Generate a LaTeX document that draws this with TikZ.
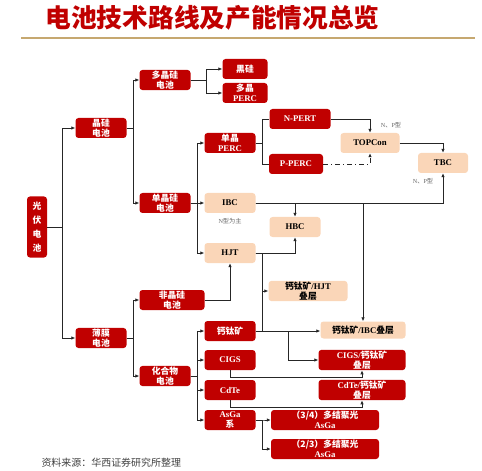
\documentclass[tikz,border=0pt]{standalone}
\usepackage{fontspec}
\setmainfont{Liberation Serif}
\newfontfamily\cjk{Noto Sans CJK SC}
\newcommand\zh[1]{{\cjk #1}}
\usetikzlibrary{arrows.meta}
\definecolor{boxred}{RGB}{192,0,0}
\definecolor{boxpeach}{RGB}{250,214,184}
\definecolor{rulegold}{RGB}{198,168,112}

\begin{document}
\begin{tikzpicture}[x=1bp,y=-1bp,
    redbox/.style={fill=boxred,text=white,rounded corners=3bp,minimum width=51bp,minimum height=20bp,
      inner sep=1bp,align=center,font=\fontsize{8.8}{9.8}\selectfont\bfseries},
    peachbox/.style={redbox,fill=boxpeach,text=black},
    ln/.style={line width=0.8bp,draw=black!85},
    arr/.style={ln,-{Latex[length=4bp,width=3.5bp]}},
    lbl/.style={text=black!60,font=\fontsize{6.2}{7}\selectfont}]
  \useasboundingbox (0,0) rectangle (482,471);
  \node[anchor=west,text=boxred,font=\cjk\bfseries\fontsize{25.8}{28}\selectfont] (title) at (42,18) {电池技术路线及产能情况总览};
  \draw[rulegold,line width=1.5bp] (21,38) -- (475,38);

  \node[redbox,minimum width=20bp,minimum height=61bp,font=\cjk\fontsize{8.8}{14}\selectfont\bfseries] (pv) at (37,227) {光\\伏\\电\\池};
  \node[redbox] (jg) at (101,128) {\zh{晶硅}\\\zh{电池}};
  \node[redbox] (bm) at (101,338) {\zh{薄膜}\\\zh{电池}};
  \node[redbox] (djg) at (165,80) {\zh{多晶硅}\\\zh{电池}};
  \node[redbox] (dan) at (165,203) {\zh{单晶硅}\\\zh{电池}};
  \node[redbox,minimum width=65bp] (fjg) at (172,300) {\zh{非晶硅}\\\zh{电池}};
  \node[redbox] (hhw) at (165,376) {\zh{化合物}\\\zh{电池}};
  \node[redbox,minimum width=45bp] (hg) at (245,69) {\zh{黑硅}};
  \node[redbox,minimum width=45bp] (dperc) at (245,93) {\zh{多晶}\\PERC};
  \node[redbox] (sperc) at (230,143) {\zh{单晶}\\PERC};
  \node[peachbox] (ibc) at (230,203) {IBC};
  \node[lbl] (ibcn) at (230,221) {N\zh{型为主}};
  \node[peachbox] (hjt) at (230,253) {HJT};
  \node[redbox] (gtk) at (230,331) {\zh{钙钛矿}};
  \node[redbox] (cigs) at (230,360) {CIGS};
  \node[redbox] (cdte) at (230,390) {CdTe};
  \node[redbox] (asga) at (230,420) {AsGa\\\zh{系}};
  \node[redbox,minimum width=61bp] (npert) at (300,119) {N-PERT};
  \node[redbox,minimum width=54bp] (pperc) at (296,164) {P-PERC};
  \node[peachbox,minimum width=59bp] (topcon) at (370,143) {TOPCon};
  \node[lbl] (topn) at (391,125) {N\zh{、}P\zh{型}};
  \node[peachbox,minimum width=50bp] (tbc) at (443,163) {TBC};
  \node[lbl] (tbcn) at (423,181) {N\zh{、}P\zh{型}};
  \node[peachbox] (hbc) at (295,227) {HBC};
  \node[peachbox,minimum width=79bp] (gtkhjt) at (308,291) {\zh{钙钛矿}/HJT\\\zh{叠层}};
  \node[peachbox,minimum width=85bp,minimum height=17bp] (gtkibc) at (363,330) {\zh{钙钛矿}/IBC\zh{叠层}};
  \node[redbox,minimum width=87bp] (cigsgtk) at (362,360) {CIGS/\zh{钙钛矿}\\\zh{叠层}};
  \node[redbox,minimum width=87bp] (cdtegtk) at (362,390) {CdTe/\zh{钙钛矿}\\\zh{叠层}};
  \node[redbox,minimum width=108bp] (mj34) at (325,420) {\zh{（3/4）多结聚光}\\AsGa};
  \node[redbox,minimum width=108bp] (mj23) at (325,449) {\zh{（2/3）多结聚光}\\AsGa};
  \node[anchor=west,text=black!75,font=\cjk\fontsize{10}{11}\selectfont] (src) at (38,463) {资料来源：华西证券研究所整理};

  \draw[arr] (pv.east) -- ++(15,0) |- (jg.west);
  \draw[arr] (pv.east) -- ++(15,0) |- (bm.west);
  \draw[arr] (jg.east) -- ++(6.5,0) |- (djg.west);
  \draw[arr] (jg.east) -- ++(6.5,0) |- (dan.west);
  \draw[arr] (djg.east) -- ++(16,0) |- (hg.west);
  \draw[arr] (djg.east) -- ++(16,0) |- (dperc.west);
  \draw[arr] (dan.east) -- ++(6.5,0) |- (sperc.west);
  \draw[arr] (dan.east) -- (ibc.west);
  \draw[arr] (dan.east) -- ++(6.5,0) |- (hjt.west);
  \draw[ln] (sperc.east) -- ++(6.5,0) |- (npert.west);
  \draw[ln] (sperc.east) -- ++(6.5,0) |- (pperc.west);
  \draw[arr] (npert.east) -| (topcon.north);
  \draw[arr,dash pattern=on 5bp off 3bp on 1bp off 3bp] (pperc.east) -| (topcon.south);
  \draw[arr] (topcon.east) -| (tbc.north);
  \draw[arr] (ibc.east) -| (tbc.south);
  \draw[arr] (ibc.east) -| (hbc.north);
  \draw[arr] (ibc.east) -| (gtkibc.north);
  \draw[arr] (hjt.east) -| (hbc.south);
  \draw[arr] (hjt.east) -- ++(6.5,0) |- (gtkhjt.west);
  \draw[ln] (hjt.east) -- ++(6.5,0) |- (gtk.east);
  \draw[arr] (gtk.east) -- (gtk.east -| gtkibc.west);
  \draw[arr] (gtk.east) -- ++(32.5,0) |- (cigsgtk.west);
  \draw[arr] (cigs.south) -- ++(0,7) -| (cigsgtk.south);
  \draw[arr] (cdte.south) -- ++(0,7) -| (cdtegtk.south);
  \draw[arr] (bm.east) -- ++(6.5,0) |- (fjg.west);
  \draw[arr] (bm.east) -- ++(6.5,0) |- (hhw.west);
  \draw[arr] (fjg.east) -| (hjt.south);
  \draw[arr] (hhw.east) -- ++(6.5,0) |- (gtk.west);
  \draw[arr] (hhw.east) -- ++(6.5,0) |- (cigs.west);
  \draw[arr] (hhw.east) -- ++(6.5,0) |- (cdte.west);
  \draw[arr] (hhw.east) -- ++(6.5,0) |- (asga.west);
  \draw[arr] (asga.east) -- ++(7,0) |- (mj34.west);
  \draw[arr] (asga.east) -- ++(7,0) |- (mj23.west);
\end{tikzpicture}
\end{document}
